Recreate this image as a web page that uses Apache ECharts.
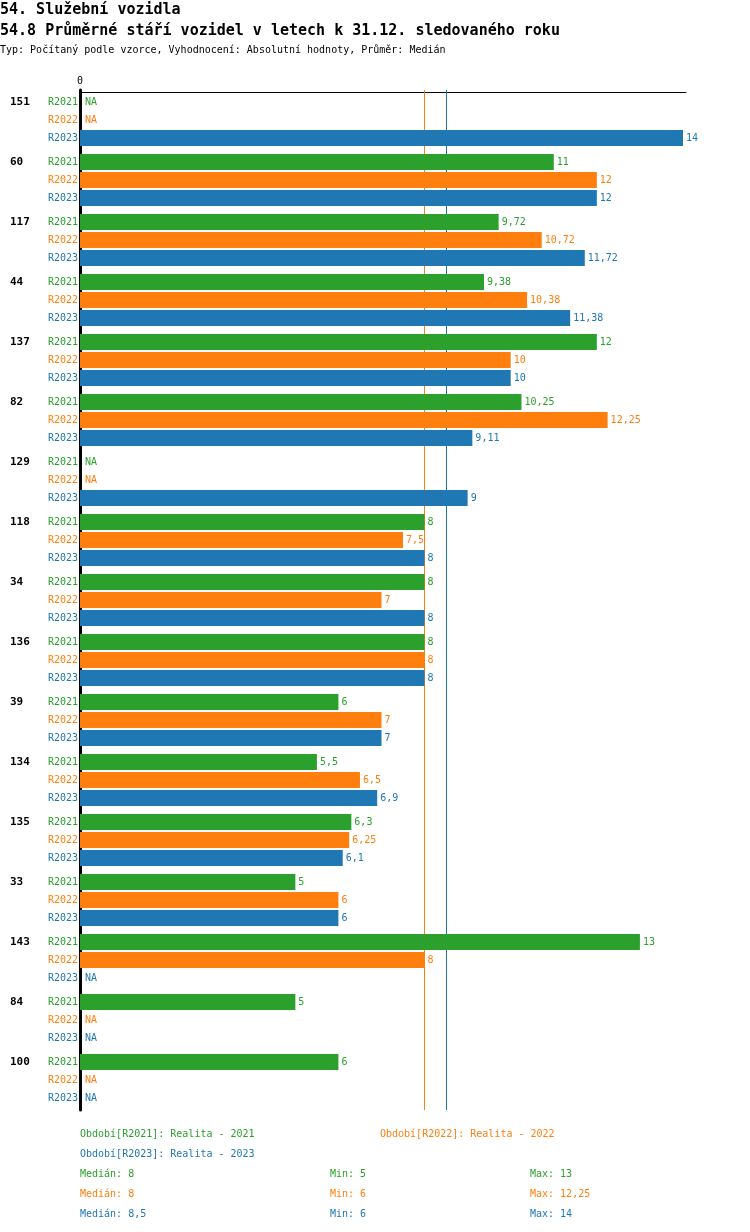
<!DOCTYPE html>
<html>
<head>
<meta charset="UTF-8">
<title>54.8 Průměrné stáří vozidel</title>
<script src="https://cdn.jsdelivr.net/npm/echarts@6/dist/echarts.min.js"></script>
<style>
  html, body { margin: 0; padding: 0; background: #fff; }
  #main { width: 750px; height: 1232px; }
</style>
</head>
<body>
<div id="main"></div>
<script type="text/javascript">
// kategorie (shora dolu)
var categories = ['151', '60', '117', '44', '137', '82', '129', '118', '34', '136', '39', '134', '135', '33', '143', '84', '100'];
var periods = ['R2021', 'R2022', 'R2023'];
var periodNames = ['Realita - 2021', 'Realita - 2022', 'Realita - 2023'];
// null = NA
var r2021 = [null, 11, 9.72, 9.38, 12, 10.25, null, 8, 8, 8, 6, 5.5, 6.3, 5, 13, 5, 6];
var r2022 = [null, 12, 10.72, 10.38, 10, 12.25, null, 7.5, 7, 8, 7, 6.5, 6.25, 6, 8, null, null];
var r2023 = [14, 12, 11.72, 11.38, 10, 9.11, 9, 8, 8, 8, 7, 6.9, 6.1, 6, null, null, null];
var colors = ['#2ca02c', '#ff7f0e', '#1f77b4'];

var FONT = 'DejaVu Sans Mono';

function fmt(v) {
    return String(v).replace('.', ',');
}

function median(arr) {
    var a = arr.filter(function (v) { return v !== null; }).sort(function (x, y) { return x - y; });
    var m = Math.floor(a.length / 2);
    return a.length % 2 ? a[m] : (a[m - 1] + a[m]) / 2;
}
function minOf(arr) { return Math.min.apply(null, arr.filter(function (v) { return v !== null; })); }
function maxOf(arr) { return Math.max.apply(null, arr.filter(function (v) { return v !== null; })); }

var allData = [r2021, r2022, r2023];

function makeSeries(idx) {
    var data = allData[idx].map(function (v) {
        if (v === null) {
            return { value: 0, na: true, label: { distance: 5 } };
        }
        return { value: v };
    });
    return {
        name: periods[idx],
        type: 'bar',
        z: 3,
        barWidth: 16,
        barGap: '12.5%',
        itemStyle: { color: colors[idx] },
        label: {
            show: true,
            position: 'right',
            distance: 3,
            color: colors[idx],
            fontFamily: FONT,
            fontSize: 10,
            formatter: function (p) {
                return p.data.na ? 'NA' : fmt(p.value);
            }
        },
        data: data
    };
}

// medianove cary - zvlast, pod sloupci
function makeMedian(idx) {
    return {
        name: periods[idx] + '-median',
        type: 'line',
        z: 1,
        data: [],
        markLine: {
            z: 1,
            silent: true,
            symbol: 'none',
            label: { show: false },
            lineStyle: { color: colors[idx], type: 'solid', width: 1, opacity: 1 },
            emphasis: { disabled: true },
            data: [{ xAxis: median(allData[idx]) }]
        }
    };
}

// titulky a legenda dole
var titles = [
    { text: '54. Služební vozidla', left: 0, top: 1, textStyle: { fontSize: 15, fontWeight: 'bold', color: '#000', fontFamily: FONT, lineHeight: 18 } },
    { text: '54.8 Průměrné stáří vozidel v letech k 31.12. sledovaného roku', left: 0, top: 22, textStyle: { fontSize: 15, fontWeight: 'bold', color: '#000', fontFamily: FONT, lineHeight: 18 } },
    { text: 'Typ: Počítaný podle vzorce, Vyhodnocení: Absolutní hodnoty, Průměr: Medián', left: 0, top: 44, textStyle: { fontSize: 10, fontWeight: 'normal', color: '#000', fontFamily: FONT, lineHeight: 12 } }
];
var legendPos = [[80, 1129], [380, 1129], [80, 1149]];
for (var i = 0; i < 3; i++) {
    titles.push({
        text: 'Období[' + periods[i] + ']: ' + periodNames[i],
        left: legendPos[i][0], top: legendPos[i][1],
        textStyle: { fontSize: 10, fontWeight: 'normal', color: colors[i], fontFamily: FONT }
    });
    var rowTop = 1169 + i * 20;
    titles.push({ text: 'Medián: ' + fmt(median(allData[i])), left: 80, top: rowTop, textStyle: { fontSize: 10, fontWeight: 'normal', color: colors[i], fontFamily: FONT } });
    titles.push({ text: 'Min: ' + fmt(minOf(allData[i])), left: 330, top: rowTop, textStyle: { fontSize: 10, fontWeight: 'normal', color: colors[i], fontFamily: FONT } });
    titles.push({ text: 'Max: ' + fmt(maxOf(allData[i])), left: 530, top: rowTop, textStyle: { fontSize: 10, fontWeight: 'normal', color: colors[i], fontFamily: FONT } });
}
titles.forEach(function (t) { t.padding = 0; });

var myChart = echarts.init(document.getElementById('main'));
var option = {
    animation: false,
    backgroundColor: '#fff',
    title: titles,
    grid: { left: 80, top: 90, width: 606, height: 1020, containLabel: false },
    xAxis: {
        type: 'value',
        position: 'top',
        offset: -2,
        min: 0,
        max: 14.07,
        interval: 100,
        axisLine: { show: true, lineStyle: { color: '#000', width: 1 } },
        axisTick: { show: false },
        splitLine: { show: false },
        axisLabel: {
            margin: 6,
            showMaxLabel: false,
            color: '#000',
            fontFamily: FONT,
            fontSize: 10,
            formatter: function (v) { return v === 0 ? '0' : ''; }
        }
    },
    yAxis: {
        type: 'category',
        inverse: true,
        data: categories,
        axisLine: { show: true, lineStyle: { color: '#000', width: 3 } },
        axisTick: { show: false },
        axisLabel: {
            margin: 2,
            align: 'right',
            fontFamily: FONT,
            fontSize: 10,
            lineHeight: 18,
            formatter: function (v) {
                return '{n|' + v + '}{a|' + periods[0] + '}\n{b|' + periods[1] + '}\n{c|' + periods[2] + '}';
            },
            rich: {
                n: { width: 38, align: 'left', fontWeight: 'bold', fontSize: 11, color: '#000', fontFamily: FONT, lineHeight: 18 },
                a: { color: colors[0], fontSize: 10, fontFamily: FONT, lineHeight: 18 },
                b: { color: colors[1], fontSize: 10, fontFamily: FONT, lineHeight: 18 },
                c: { color: colors[2], fontSize: 10, fontFamily: FONT, lineHeight: 18 }
            }
        }
    },
    series: [makeMedian(0), makeMedian(1), makeMedian(2), makeSeries(0), makeSeries(1), makeSeries(2)]
};
myChart.setOption(option);
</script>
</body>
</html>
